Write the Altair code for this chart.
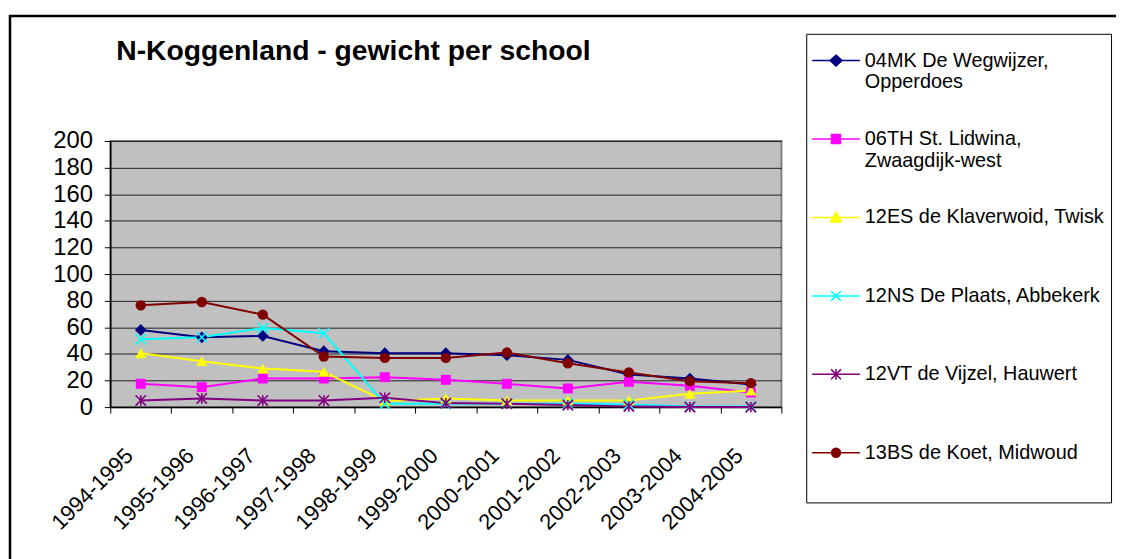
import altair as alt
import pandas as pd

YEARS = ["1994-1995", "1995-1996", "1996-1997", "1997-1998", "1998-1999",
         "1999-2000", "2000-2001", "2001-2002", "2002-2003", "2003-2004", "2004-2005"]

SERIES = ["04MK De Wegwijzer,\nOpperdoes",
          "06TH St. Lidwina,\nZwaagdijk-west",
          "12ES de Klaverwoid, Twisk",
          "12NS De Plaats, Abbekerk",
          "12VT de Vijzel, Hauwert",
          "13BS de Koet, Midwoud"]

V_04MK = [58, 52.5, 53.5, 42, 40.5, 40.5, 39, 35.5, 24.5, 21.5, 17]
V_06TH = [17.5, 15, 21.5, 21.5, 22.5, 20.5, 17.5, 14, 19, 16, 11]
V_12ES = [40.5, 34.5, 29, 26.5, 4.5, 6.5, 5, 5, 5, 10, 12.5]
V_12NS = [51, 52.5, 59.5, 55.5, 2.5, 2.5, 2.5, 2.5, 2, 0.5, 0.5]
V_12VT = [5, 6.5, 5, 5, 7, 3, 2.5, 1.5, 0.5, 0, 0]
V_13BS = [76.5, 79, 69.5, 38, 37, 37, 41, 33, 26, 19.5, 18]

VALUES = [V_04MK, V_06TH, V_12ES, V_12NS, V_12VT, V_13BS]
COLORS = ["#000080", "#FF00FF", "#FFFF00", "#00FFFF", "#800080", "#800000"]
Y_TICKS = [0, 20, 40, 60, 80, 100, 120, 140, 160, 180, 200]
TITLE = "N-Koggenland - gewicht per school"

# marker styles (plot)
X_PATH = "M-1,-1L1,1M-1,1L1,-1"
AST_PATH = "M-1,-1L1,1M-1,1L1,-1M0,-1L0,1"
MARKERS = [("diamond", True, 140), ("square", True, 100), ("triangle-up", True, 130),
           (X_PATH, False, 110), (AST_PATH, False, 110), ("circle", True, 110)]

# legend symbols: line segment + marker (unit = 10px)
LEGEND_SHAPES = [
    "M-2.4,1H2.4M0,0.45L0.6,1L0,1.55L-0.6,1Z",
    "M-2.4,1H2.4M-0.45,0.55H0.45V1.45H-0.45Z",
    "M-2.4,1H2.4M0,0.45L0.55,1.45H-0.55Z",
    "M-2.4,1H2.4M-0.5,0.5L0.5,1.5M-0.5,1.5L0.5,0.5",
    "M-2.4,1H2.4M-0.5,0.5L0.5,1.5M-0.5,1.5L0.5,0.5M0,0.45V1.55",
    "M-2.4,1H2.4M0.45,1A0.45,0.45 0 1,1 -0.45,1A0.45,0.45 0 1,1 0.45,1Z",
]

rows = []
for name, vals in zip(SERIES, VALUES):
    for yr, v in zip(YEARS, vals):
        rows.append({"jaar": yr, "series": name, "waarde": v})
df = pd.DataFrame(rows)
legend_df = pd.DataFrame({"series": SERIES})

FONT = "Liberation Sans"

x_enc = alt.X("jaar:N", sort=YEARS,
              scale=alt.Scale(type="band", domain=YEARS, paddingInner=0, paddingOuter=0),
              axis=alt.Axis(title=None, labelAngle=-45, labelAlign="right", labelBaseline="middle",
                            labelFontSize=22, labelOffset=-12, labelPadding=39, tickSize=6,
                            tickBand="extent", grid=False, labelOverlap=False))
y_enc = alt.Y("waarde:Q",
              scale=alt.Scale(domain=[0, 200], nice=False, zero=True),
              axis=alt.Axis(title=None, values=Y_TICKS, labelFontSize=24, labelPadding=12,
                            tickSize=6, grid=True, labelFlush=False, labelOverlap=False))
# colour of the plotted series (data-driven domain, kept in SERIES order)
color_enc = alt.Color("series:N", sort=SERIES, scale=alt.Scale(range=COLORS), legend=None)

frame = alt.Chart(alt.Data(values=[{"k": 1}])).mark_rect(
    filled=False, stroke="black", strokeWidth=2.5, clip=False
).encode(x=alt.value(-101), y=alt.value(-126), x2=alt.value(1030), y2=alt.value(440))

lines = alt.Chart(df).mark_line(strokeWidth=2).encode(x=x_enc, y=y_enc, color=color_enc)

point_layers = []
for name, (shape, filled, size) in zip(SERIES, MARKERS):
    mk = alt.Chart(df).transform_filter(alt.datum.series == name).mark_point(
        shape=shape, filled=filled, size=size, opacity=1,
        strokeWidth=1.6 if not filled else 0.5
    ).encode(x=x_enc, y=y_enc, color=color_enc)
    point_layers.append(mk)


def make_legend():
    return alt.Legend(
        title=" ", titleOrient="bottom", titleFontSize=20, titlePadding=14,
        orient="none", legendX=701, legendY=-108, padding=6,
        strokeColor="black", fillColor="white",
        labelExpr="split(datum.label, '\\n')", labelFont=FONT, labelFontSize=20,
        labelColor="black", labelLimit=400, labelBaseline="top",
        symbolSize=400, symbolStrokeWidth=1.5, symbolOffset=13, labelOffset=18,
        rowPadding=26, gridAlign="all",
    )


# legend-only layer: its marks sit outside the clipped plot area, only the legend shows
legend_layer = alt.Chart(legend_df).mark_point(filled=True, opacity=1, clip=True).encode(
    x=alt.value(-600), y=alt.value(-600),
    shape=alt.Shape("series:N", scale=alt.Scale(domain=SERIES, range=LEGEND_SHAPES),
                    legend=make_legend()),
    fill=alt.Fill("series:N", scale=alt.Scale(domain=SERIES, range=COLORS),
                  legend=make_legend()),
    stroke=alt.Stroke("series:N", scale=alt.Scale(domain=SERIES, range=COLORS),
                      legend=make_legend()),
)

chart = alt.layer(frame, lines, *point_layers, legend_layer).properties(
    width=676, height=268,
    title=alt.TitleParams(TITLE, anchor="start", frame="group", fontSize=28.5, fontWeight="bold",
                          font=FONT, color="black", dx=6, offset=0, baseline="alphabetic", dy=74),
    autosize=alt.AutoSizeParams(type="none"),
    padding={"left": 103, "top": 132, "right": 337, "bottom": 151},
    background="white",
).configure_view(
    fill="#C0C0C0", stroke="#808080", strokeWidth=2
).configure_axis(
    labelFont=FONT, labelColor="black", domainColor="black", domainWidth=1.5,
    tickColor="black", tickWidth=1, gridColor="#202020", gridWidth=1
)

chart.save("out.html", embed_options={"renderer": "svg", "actions": False})
